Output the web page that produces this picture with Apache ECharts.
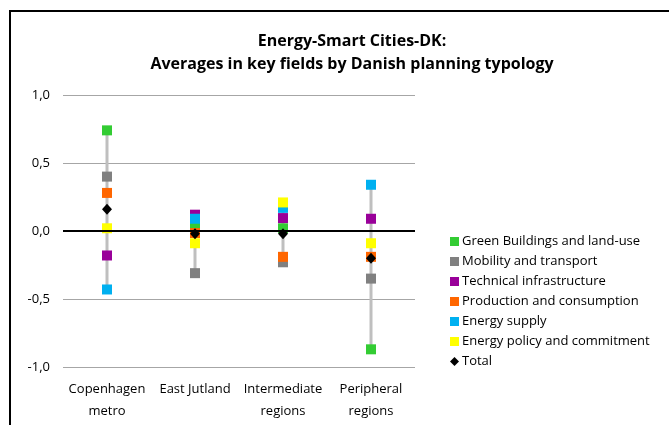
<!DOCTYPE html>
<html>
<head>
<meta charset="utf-8">
<script src="https://cdn.jsdelivr.net/npm/echarts@6/dist/echarts.min.js"></script>
<style>
  html, body { margin: 0; padding: 0; background: #fff; }
  #main { width: 669px; height: 425px; }
</style>
</head>
<body>
<div id="main"></div>
<script>
  // regions
  var categories = ['Copenhagen\nmetro', 'East Jutland', 'Intermediate\nregions', 'Peripheral\nregions'];

  // averages per key field
  var greenBuildings = [0.74, 0.04, 0.02, -0.87];
  var mobility = [0.40, -0.31, -0.23, -0.35];
  var technical = [-0.18, 0.12, 0.095, 0.09];
  var production = [0.28, -0.015, -0.19, -0.19];
  var energySupply = [-0.43, 0.09, 0.17, 0.34];
  var energyPolicy = [0.02, -0.09, 0.21, -0.09];
  var total = [0.16, -0.02, -0.02, -0.20];

  var yTicks = [-1, -0.5, 0, 0.5, 1];

  var fields = [
    { name: 'Green Buildings and land-use', data: greenBuildings, color: '#33cc33' },
    { name: 'Mobility and transport', data: mobility, color: '#808080' },
    { name: 'Technical infrastructure', data: technical, color: '#990099' },
    { name: 'Production and consumption', data: production, color: '#ff6600' },
    { name: 'Energy supply', data: energySupply, color: '#00b0f0' },
    { name: 'Energy policy and commitment', data: energyPolicy, color: '#ffff00' }
  ];

  // high-low line for each region
  var hiLo = categories.map(function (c, i) {
    var vals = fields.map(function (f) { return f.data[i]; }).concat([total[i]]);
    return [i, Math.min.apply(null, vals), Math.max.apply(null, vals)];
  });

  var font = 'Open Sans';
  var series = [{
    type: 'custom',
    name: 'hilo',
    z: 1,
    silent: true,
    data: hiLo,
    renderItem: function (params, api) {
      var a = api.coord([api.value(0), api.value(1)]);
      var b = api.coord([api.value(0), api.value(2)]);
      return {
        type: 'line',
        shape: { x1: a[0], y1: a[1], x2: b[0], y2: b[1] },
        style: { stroke: '#bfbfbf', lineWidth: 3 }
      };
    },
    markLine: {
      silent: true,
      symbol: 'none',
      label: { show: false },
      lineStyle: { color: '#000', width: 2, type: 'solid' },
      data: [{ yAxis: 0 }]
    }
  }];

  fields.forEach(function (f) {
    series.push({
      type: 'scatter',
      name: f.name,
      symbol: 'rect',
      symbolSize: 10,
      z: 3,
      itemStyle: { color: f.color, opacity: 1 },
      data: f.data
    });
  });
  series.push({
    type: 'scatter',
    name: 'Total',
    symbol: 'diamond',
    symbolSize: [10, 11],
    z: 4,
    itemStyle: { color: '#000', opacity: 1 },
    data: total
  });

  var myChart = echarts.init(document.getElementById('main'));
  var option = {
    animation: false,
    backgroundColor: '#fff',
    title: {
      text: 'Energy-Smart Cities-DK:\nAverages in key fields by Danish planning typology',
      left: 347,
      top: 25,
      textAlign: 'center',
      textStyle: { fontFamily: font, fontSize: 16, fontWeight: 'bold', color: '#000', lineHeight: 23 }
    },
    graphic: [{
      type: 'polyline',
      shape: { points: [[10, 425], [10, 11], [669, 11]] },
      style: { stroke: '#000', lineWidth: 2, fill: null },
      silent: true
    }],
    legend: {
      orient: 'vertical',
      left: 445,
      top: 230,
      itemWidth: 9,
      itemHeight: 9,
      itemGap: 7,
      data: fields.map(function (f) { return { name: f.name, icon: 'rect' }; })
        .concat([{ name: 'Total', icon: 'diamond' }]),
      textStyle: { fontFamily: font, fontSize: 13, color: '#000', padding: [0, 0, 0, -2] }
    },
    grid: { left: 63, right: 254, top: 95, bottom: 58 },
    xAxis: {
      type: 'category',
      data: categories,
      axisLine: { show: false },
      axisTick: { show: false },
      axisLabel: { fontFamily: font, fontSize: 13, color: '#000', margin: 11, lineHeight: 22, interval: 0 }
    },
    yAxis: {
      type: 'value',
      min: yTicks[0],
      max: yTicks[yTicks.length - 1],
      interval: 0.5,
      axisLine: { show: false },
      axisTick: { show: false },
      splitLine: { lineStyle: { color: '#a6a6a6', width: 1 } },
      axisLabel: {
        fontFamily: font, fontSize: 13, color: '#000', margin: 13,
        formatter: function (v) { return v.toFixed(1).replace('.', ','); }
      }
    },
    series: series
  };
  option && myChart.setOption(option);
</script>
</body>
</html>
